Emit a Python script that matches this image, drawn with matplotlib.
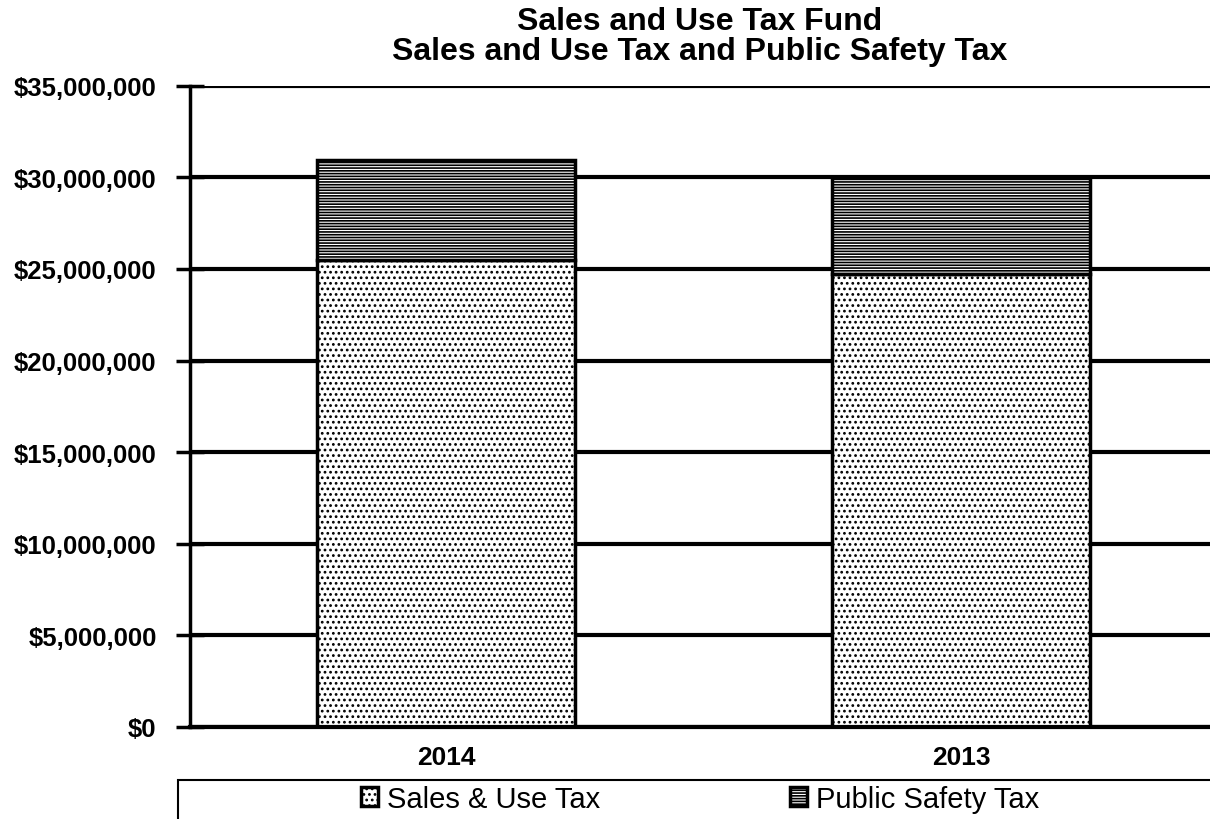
import numpy as np
import matplotlib.pyplot as plt
from matplotlib.ticker import FuncFormatter
from matplotlib.patches import Rectangle

plt.rcParams['font.family'] = ['Liberation Sans', 'DejaVu Sans']
plt.rcParams['hatch.linewidth'] = 1.2

years = ['2014', '2013']
sales_use = [25.5e6, 24.7e6]
public_safety = [5.45e6, 5.25e6]

fig = plt.figure(figsize=(12.1, 8.2), dpi=100)
ax = fig.add_axes([0.157, 0.1122, 0.843, 0.782])

x = np.arange(len(years))
ax.bar(x, sales_use, width=0.5, color='white', edgecolor='black',
       linewidth=2.5, hatch='...', label='Sales & Use Tax', zorder=3)
ax.bar(x, public_safety, width=0.5, bottom=sales_use, color='white',
       edgecolor='black', linewidth=2.5, hatch='------',
       label='Public Safety Tax', zorder=3)

ax.set_ylim(0, 35e6)
ax.set_xlim(-0.497, 1.483)
ax.set_yticks(np.arange(0, 35e6 + 1, 5e6))
ax.yaxis.set_major_formatter(FuncFormatter(lambda v, p: '${:,.0f}'.format(v)))
ax.set_xticks(x)
ax.set_xticklabels(years)
ax.grid(axis='y', color='black', linewidth=3, zorder=1)
ax.axhline(0, color='black', linewidth=3, clip_on=False, zorder=4)
for s in ['top', 'right', 'bottom']:
    ax.spines[s].set_visible(False)
ax.spines['left'].set_linewidth(2.5)
ax.tick_params(axis='y', direction='inout', length=20, width=2.5, pad=14,
               labelsize=18.5)
ax.tick_params(axis='x', length=0, pad=13, labelsize=19)
for lbl in ax.get_yticklabels() + ax.get_xticklabels():
    lbl.set_fontweight('bold')

ax.set_title('Sales and Use Tax Fund\nSales and Use Tax and Public Safety Tax',
             fontsize=23, fontweight='bold', pad=19, linespacing=1.0)

# legend box: only left and top edges are visible in the picture
fig.patches.append(Rectangle((178 / 1210, -0.02), 0.9, 0.0676,
                             transform=fig.transFigure, fill=False,
                             edgecolor='black', linewidth=1.5))
fig.legend(loc='center', bbox_to_anchor=(700 / 1210, 1 - 800 / 820),
           ncol=2, frameon=False, fontsize=21, handlelength=0.6,
           handleheight=0.6, handletextpad=0.3, columnspacing=6.5,
           borderaxespad=0, borderpad=0)

fig.savefig('out.png', dpi=100)
